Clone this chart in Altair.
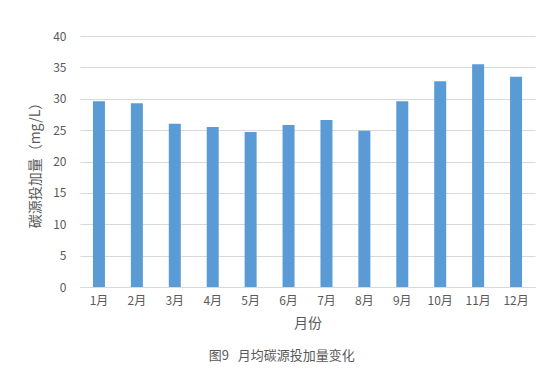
import altair as alt
import pandas as pd

months = ["1月", "2月", "3月", "4月", "5月", "6月", "7月", "8月", "9月", "10月", "11月", "12月"]
values = [29.6, 29.3, 26.0, 25.5, 24.7, 25.8, 26.6, 24.9, 29.6, 32.8, 35.5, 33.5]

df = pd.DataFrame({"month": months, "value": values})
FONT = "Noto Sans CJK SC"
GRAY = "#595959"

chart = alt.Chart(df).mark_bar(color="#5B9BD5", size=12).encode(
    x=alt.X("month:N", sort=months, title="月份",
            scale=alt.Scale(paddingInner=0.0, paddingOuter=0.0),
            axis=alt.Axis(labelAngle=0, labelFont=FONT, labelFontSize=12, labelColor=GRAY,
                          titleFont=FONT, titleFontSize=14, titleColor=GRAY, titleFontWeight="normal",
                          titlePadding=10, labelPadding=8, ticks=False, domainColor="#d9d9d9")),
    y=alt.Y("value:Q", title="碳源投加量（mg/L）",
            scale=alt.Scale(domain=[0, 40], nice=False),
            axis=alt.Axis(values=[0, 5, 10, 15, 20, 25, 30, 35, 40], labelFont=FONT, labelFontSize=12,
                          labelColor=GRAY, titleFont=FONT, titleFontSize=14, titleColor=GRAY,
                          titleFontWeight="normal", ticks=False, domain=False, gridColor="#d9d9d9",
                          labelPadding=14, titlePadding=10)),
).properties(
    width=455, height=251,
    padding={"left": 80, "top": 36, "right": 18, "bottom": 90},
    autosize="none",
    title=alt.TitleParams("图9\u00a0\u00a0\u00a0月均碳源投加量变化", orient="bottom", anchor="middle", frame="bounds",
                          font=FONT, fontSize=13, color=GRAY, fontWeight="normal", offset=20),
).configure_view(stroke=None)

chart.save("out.html", embed_options={"renderer": "svg", "actions": False})
